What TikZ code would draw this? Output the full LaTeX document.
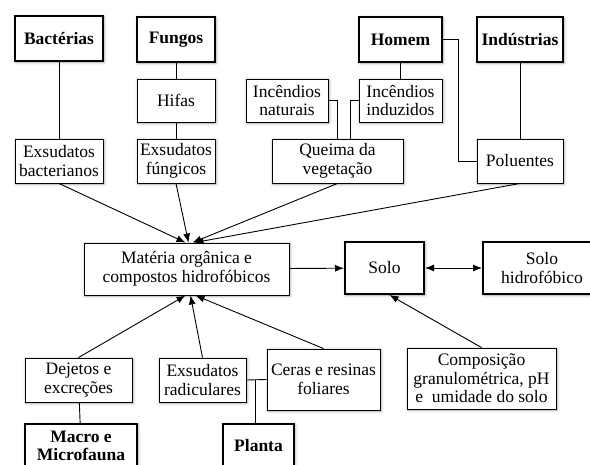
\documentclass[tikz,border=0pt]{standalone}
\usepackage{fontspec}
\setmainfont{Liberation Serif}
\usetikzlibrary{positioning,calc,arrows.meta,shadows.blur}

\begin{document}
\begin{tikzpicture}[
    x=1pt, y=-1pt,
    box/.style={rectangle, draw, line width=0.9pt, fill=white, align=center, inner sep=0pt,
      font=\fontsize{17.5}{18.5}\selectfont,
      blur shadow={shadow xshift=1pt, shadow yshift=-1pt, shadow blur radius=3pt, shadow opacity=35}},
    agent/.style={box, line width=1.3pt, font=\fontsize{17.5}{18.5}\selectfont\bfseries},
    soil/.style={box, line width=2pt},
    arrow/.style={-{Latex[length=9pt,width=7pt]}, line width=0.9pt},
    dblarrow/.style={{Latex[length=9pt,width=7pt]}-{Latex[length=9pt,width=7pt]}, line width=0.9pt},
    link/.style={line width=0.9pt}
]
\useasboundingbox (0,0) rectangle (590,464);

% Agents (top row)
\node[agent, minimum width=88, minimum height=45] (bact) at (59,38.5) {Bactérias};
\node[agent, minimum width=78, minimum height=45] (fung) at (176,39.5) {Fungos};
\node[agent, minimum width=83, minimum height=45] (homem) at (400.5,39.5) {Homem};
\node[agent, minimum width=86, minimum height=45] (indus) at (520,39.5) {Indústrias};

% Intermediate sources
\node[box, minimum width=78, minimum height=43] (hifas) at (176,100.5) {Hifas};
\node[box, minimum width=82, minimum height=43] (incnat) at (287,100.5) {Incêndios\\naturais};
\node[box, minimum width=83, minimum height=43] (incind) at (400.5,100.5) {Incêndios\\induzidos};

% Products
\node[box, minimum width=88, minimum height=44] (exbac) at (59,161) {Exsudatos\\bacterianos};
\node[box, minimum width=78, minimum height=44] (exfung) at (176,161) {Exsudatos\\fúngicos};
\node[box, minimum width=131, minimum height=44] (queima) at (337.5,161) {Queima da\\vegetação};
\node[box, minimum width=86, minimum height=44] (polu) at (520,161) {Poluentes};

% Centre row
\node[box, minimum width=205, minimum height=52] (mat) at (186.5,269) {Matéria orgânica e\\compostos hidrofóbicos};
\node[soil, minimum width=79, minimum height=52] (solo) at (384.5,268) {Solo};
\node[soil, minimum width=118, minimum height=52] (solohid) at (542,268) {Solo\\hidrofóbico};

% Lower sources
\node[box, minimum width=107, minimum height=44] (dejetos) at (78.5,380) {Dejetos e\\excreções};
\node[box, minimum width=87, minimum height=44] (exrad) at (202.5,380) {Exsudatos\\radiculares};
\node[box, minimum width=113, minimum height=61] (ceras) at (323.5,379.5) {Ceras e resinas\\foliares};
\node[box, minimum width=149, minimum height=61] (comp) at (481.5,378.5) {Composição\\granulométrica, pH\\e~~umidade do solo};

% Bottom agents
\node[agent, minimum width=112, minimum height=44] (macro) at (81,446) {Macro e\\Microfauna};
\node[agent, minimum width=71, minimum height=44] (planta) at (258.5,446) {Planta};

% Links
\draw[link] (bact) -- (exbac);
\draw[link] (fung) -- (hifas);
\draw[link] (hifas) -- (exfung);
\draw[link] (homem) -- (incind);
\draw[link] (indus) -- (polu);
\draw[link] (homem.east) -- ++(16,0) |- (polu.west);
\draw[link] (incnat.east) -| ([xshift=-0.5pt]queima.north);
\draw[link] (incind.west) -| ([xshift=12.5pt]queima.north);
\draw[link] (dejetos) -- (macro);
\draw[link] (exrad.east) -- (ceras.west);
\draw[link] ([xshift=-3pt]planta.north) -- ([xshift=-3pt]planta.north |- exrad.east);

% Arrows
\draw[arrow] (exbac.south) -- ([xshift=-1pt]mat.north);
\draw[arrow] (exfung.south) -- ([xshift=2pt]mat.north);
\draw[arrow] (queima.south) -- ([xshift=6pt]mat.north);
\draw[arrow] (polu.south) -- ([xshift=8pt]mat.north);
\draw[arrow] (dejetos.north) -- ([xshift=-1pt]mat.south);
\draw[arrow] (exrad.north) -- ([xshift=4pt]mat.south);
\draw[arrow] (ceras.north) -- ([xshift=9pt]mat.south);
\draw[arrow] (mat) -- (solo);
\draw[dblarrow] (solo) -- (solohid);
\draw[arrow] (comp.north) -- ([xshift=5pt]solo.south);

\end{tikzpicture}
\end{document}
